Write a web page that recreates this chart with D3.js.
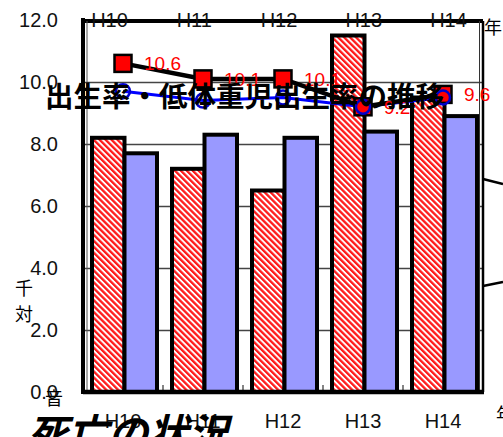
<!DOCTYPE html>
<html>
<head>
<meta charset="utf-8">
<script src="https://cdnjs.cloudflare.com/ajax/libs/d3/7.8.5/d3.min.js"></script>
<style>
    body { margin: 0; background: #fff; }
    svg { display: block; }
</style>
</head>
<body>
<script>
// chart values
const years = ["H10", "H11", "H12", "H13", "H14"];
const redBars = [8.2, 7.2, 6.5, 11.5, 9.5];
const blueBars = [7.7, 8.3, 8.2, 8.4, 8.9];
const redLine = [10.6, 10.1, 10.1, 9.2, 9.6];
const blueLine = [9.7, 9.4, 9.5, 9.2, 9.5];
const yTicks = [0, 2, 4, 6, 8, 10, 12];

const svg = d3.select("body").append("svg")
    .attr("width", 503)
    .attr("height", 437);

const plotLeft = 83, plotRight = 483, plotTop = 20, plotBottom = 392;

let y = d3.scaleLinear().domain([0, 12]).range([plotBottom, plotTop]);
let x = d3.scaleBand().domain(years).range([plotLeft, plotRight]);
let sub = d3.scaleBand().domain([0, 1]).range([9, 74]);
let topX = d3.scalePoint().domain(years).range([109, 448]);

// hatch for the red bars
let defs = svg.append("defs");
let pat = defs.append("pattern")
    .attr("id", "hatch")
    .attr("patternUnits", "userSpaceOnUse")
    .attr("width", 4.2)
    .attr("height", 4.2)
    .attr("patternTransform", "rotate(-45)");
pat.append("rect").attr("width", 4.2).attr("height", 4.2).attr("fill", "#fff");
pat.append("rect").attr("width", 2.3).attr("height", 4.2).attr("fill", "#ff1a1a");

// gridlines
svg.append("g")
    .attr("transform", `translate(${plotLeft},0)`)
    .call(d3.axisLeft(y).tickValues(yTicks.slice(1, -1)).tickSize(-(plotRight - plotLeft)).tickFormat(""))
    .call(g => g.select(".domain").remove())
    .selectAll("line")
    .attr("stroke", "#444")
    .attr("stroke-width", 1.5);

// little ticks between groups
svg.append("g")
    .selectAll("line")
    .data(years.slice(1))
    .enter()
    .append("line")
    .attr("x1", d => x(d))
    .attr("x2", d => x(d))
    .attr("y1", plotBottom)
    .attr("y2", plotBottom - 7)
    .attr("stroke", "#333")
    .attr("stroke-width", 1.2);

// bars
let barData = years.map((yr, i) => ({'year': yr, 'red': redBars[i], 'blue': blueBars[i]}));
let groups = svg.append("g").selectAll(".grp")
    .data(barData)
    .enter()
    .append("g")
    .attr("class", "grp")
    .attr("transform", d => `translate(${x(d.year)},0)`);
groups.append("rect")
    .attr("x", sub(0))
    .attr("y", d => y(d.red))
    .attr("width", sub.bandwidth())
    .attr("height", d => plotBottom - y(d.red))
    .attr("fill", "url(#hatch)")
    .attr("stroke", "#000")
    .attr("stroke-width", 4);
groups.append("rect")
    .attr("x", sub(1))
    .attr("y", d => y(d.blue))
    .attr("width", sub.bandwidth())
    .attr("height", d => plotBottom - y(d.blue))
    .attr("fill", "#9999ff")
    .attr("stroke", "#000")
    .attr("stroke-width", 4);

// frame
svg.append("line").attr("x1", plotLeft).attr("x2", plotRight).attr("y1", 21).attr("y2", 21)
    .attr("stroke", "#000").attr("stroke-width", 4);
svg.append("line").attr("x1", plotRight).attr("x2", plotRight).attr("y1", 21).attr("y2", plotBottom)
    .attr("stroke", "#000").attr("stroke-width", 2.5);
svg.append("line").attr("x1", plotRight - 3.5).attr("x2", plotRight - 3.5).attr("y1", 21).attr("y2", plotBottom)
    .attr("stroke", "#333").attr("stroke-width", 1);
svg.append("line").attr("x1", plotLeft + 4).attr("x2", plotLeft + 4).attr("y1", 21).attr("y2", plotBottom)
    .attr("stroke", "#555").attr("stroke-width", 1);
svg.append("line").attr("x1", plotLeft).attr("x2", plotLeft).attr("y1", 18).attr("y2", plotBottom + 2)
    .attr("stroke", "#000").attr("stroke-width", 4);
svg.append("line").attr("x1", plotLeft).attr("x2", plotRight + 1).attr("y1", plotBottom).attr("y2", plotBottom)
    .attr("stroke", "#000").attr("stroke-width", 4.5);

// leader lines on the right
svg.append("line").attr("x1", plotRight).attr("x2", 503).attr("y1", 179).attr("y2", 184)
    .attr("stroke", "#000").attr("stroke-width", 2.5);
svg.append("line").attr("x1", plotRight).attr("x2", 503).attr("y1", 286).attr("y2", 282)
    .attr("stroke", "#000").attr("stroke-width", 2.5);

// y labels
svg.append("g")
    .attr("transform", `translate(${plotLeft},0)`)
    .call(d3.axisLeft(y).tickValues(yTicks).tickSize(0).tickPadding(25).tickFormat(d3.format(".1f")))
    .call(g => g.select(".domain").remove())
    .selectAll("text")
    .attr("fill", "#111")
    .style("font-family", "'Liberation Sans', Arial, sans-serif")
    .style("font-size", "20px");

// year labels, top and bottom
svg.append("g")
    .attr("transform", "translate(0,13)")
    .call(d3.axisTop(topX).tickSize(0).tickPadding(0))
    .call(g => g.select(".domain").remove())
    .selectAll("text")
    .attr("dy", "0.71em")
    .attr("fill", "#111")
    .style("font-family", "'Liberation Sans', Arial, sans-serif")
    .style("font-size", "20px");
svg.append("g")
    .attr("transform", `translate(0,${plotBottom})`)
    .call(d3.axisBottom(x).tickSize(0).tickPadding(22))
    .call(g => g.select(".domain").remove())
    .selectAll("text")
    .attr("fill", "#111")
    .style("font-family", "'Liberation Sans', Arial, sans-serif")
    .style("font-size", "20px");

// lines
let cx = d => x(d) + x.bandwidth() / 2;
let blueLineGen = d3.line().x((d, i) => cx(years[i])).y(d => y(d));
let redLineGen = d3.line().x((d, i) => cx(years[i])).y(d => y(d));

svg.append("path")
    .attr("d", blueLineGen(blueLine))
    .attr("fill", "none")
    .attr("stroke", "#0000ff")
    .attr("stroke-width", 3);
svg.append("path")
    .attr("d", redLineGen(redLine))
    .attr("fill", "none")
    .attr("stroke", "#000")
    .attr("stroke-width", 4.5);

const sq = 17;
svg.append("g").selectAll("rect")
    .data(redLine)
    .enter()
    .append("rect")
    .attr("x", (d, i) => cx(years[i]) - sq / 2)
    .attr("y", d => y(d) - sq / 2)
    .attr("width", sq)
    .attr("height", sq)
    .attr("fill", "#ff0000")
    .attr("stroke", "#000")
    .attr("stroke-width", 2.5);

svg.append("g").selectAll("circle")
    .data(blueLine)
    .enter()
    .append("circle")
    .attr("cx", (d, i) => cx(years[i]))
    .attr("cy", d => y(d))
    .attr("r", 7)
    .attr("fill", "none")
    .attr("stroke", "#0000cc")
    .attr("stroke-width", 2.5);

svg.append("g").selectAll("text")
    .data(redLine)
    .enter()
    .append("text")
    .attr("x", (d, i) => cx(years[i]) + 21)
    .attr("y", d => y(d) + 7)
    .attr("fill", "#ff0000")
    .style("font-family", "'Liberation Sans', Arial, sans-serif")
    .style("font-size", "19px")
    .text(d => d3.format(".1f")(d));

// stray texts
const jp = "'Noto Sans CJK JP', sans-serif";
svg.append("text")
    .attr("x", 45).attr("y", 107)
    .style("font-family", jp).style("font-size", "28.5px").style("font-weight", "bold")
    .attr("fill", "#000")
    .text("出生率・低体重児出生率の推移");
svg.append("text")
    .attr("x", 15).attr("y", 295)
    .style("font-family", jp).style("font-size", "18px")
    .text("千");
svg.append("text")
    .attr("x", 15).attr("y", 321)
    .style("font-family", jp).style("font-size", "18px")
    .text("対");
svg.append("text")
    .attr("x", 45).attr("y", 405)
    .style("font-family", jp).style("font-size", "18px")
    .text("音");
svg.append("text")
    .attr("x", 484).attr("y", 34)
    .style("font-family", jp).style("font-size", "18px")
    .text("年");
svg.append("text")
    .attr("x", 496).attr("y", 421)
    .style("font-family", jp).style("font-size", "18px")
    .text("年");
svg.append("text")
    .attr("x", 28).attr("y", 448)
    .style("font-family", jp).style("font-size", "40px").style("font-weight", "bold")
    .style("font-style", "italic")
    .text("死亡の状況");
</script>
</body>
</html>
